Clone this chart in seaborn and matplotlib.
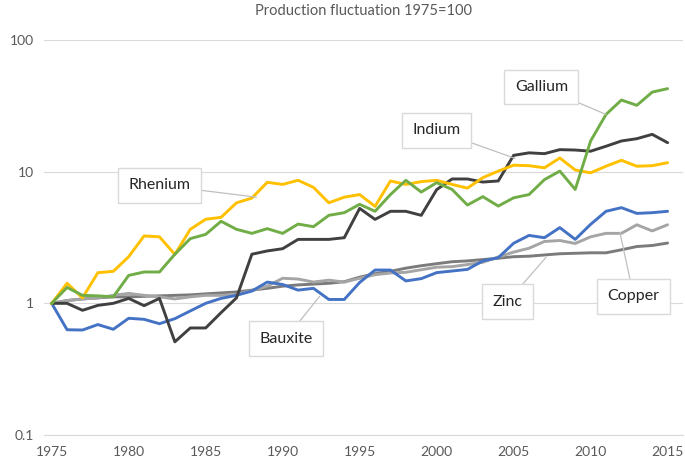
#Production fluctuation of minor metals, index 1975 = 1 (log scale)
import numpy as np
import pandas as pd
import matplotlib
matplotlib.use("Agg")
import matplotlib.pyplot as plt
import seaborn as sns

years = list(range(1975, 2016))

rhenium = [1.0, 1.42, 1.10, 1.71, 1.75, 2.26, 3.25, 3.20, 2.35, 3.65, 4.35, 4.5, 5.8, 6.3, 8.3,
           8.0, 8.6, 7.6, 5.8, 6.4, 6.7, 5.45, 8.5, 8.0, 8.4, 8.6, 8.0, 7.5, 9.0, 10.1,
           11.2, 11.1, 10.7, 12.7, 10.3, 9.8, 11.0, 12.2, 11.0, 11.1, 11.7]
gallium = [1.0, 1.32, 1.15, 1.14, 1.12, 1.63, 1.73, 1.73, 2.36, 3.1, 3.34, 4.2, 3.65, 3.4, 3.69,
           3.4, 4.0, 3.82, 4.66, 4.88, 5.65, 5.0, 6.7, 8.6, 7.0, 8.25, 7.33, 5.58, 6.46, 5.48,
           6.33, 6.7, 8.7, 10.1, 7.33, 17.1, 27.2, 35.0, 31.9, 40.2, 42.7]
indium = [1.0, 1.0, 0.885, 0.965, 1.0, 1.09, 0.96, 1.09, 0.51, 0.65, 0.65, 0.85, 1.1, 2.36, 2.5,
          2.6, 3.06, 3.06, 3.06, 3.15, 5.26, 4.34, 5.0, 5.0, 4.66, 7.3, 8.8, 8.8, 8.34, 8.5,
          13.3, 13.9, 13.7, 14.7, 14.6, 14.3, 15.6, 17.1, 17.8, 19.2, 16.6]
bauxite = [1.0, 0.63, 0.627, 0.69, 0.635, 0.77, 0.756, 0.70, 0.765, 0.875, 1.0, 1.09, 1.15, 1.24, 1.45,
           1.39, 1.26, 1.30, 1.07, 1.07, 1.44, 1.79, 1.79, 1.48, 1.54, 1.71, 1.76, 1.81, 2.1, 2.22,
           2.86, 3.28, 3.15, 3.76, 3.06, 3.98, 5.0, 5.33, 4.82, 4.88, 5.0]
zinc = [1.0, 1.05, 1.08, 1.10, 1.12, 1.12, 1.13, 1.14, 1.15, 1.16, 1.18, 1.20, 1.22, 1.26, 1.30,
        1.35, 1.38, 1.40, 1.42, 1.46, 1.58, 1.68, 1.75, 1.85, 1.93, 2.0, 2.07, 2.1, 2.15, 2.2,
        2.26, 2.28, 2.33, 2.38, 2.40, 2.42, 2.42, 2.55, 2.70, 2.75, 2.87]
copper = [1.0, 1.05, 1.08, 1.10, 1.15, 1.19, 1.15, 1.12, 1.08, 1.12, 1.15, 1.15, 1.17, 1.25, 1.35,
          1.55, 1.53, 1.45, 1.50, 1.45, 1.55, 1.65, 1.70, 1.72, 1.80, 1.88, 1.90, 1.97, 2.05, 2.25,
          2.45, 2.62, 2.95, 3.0, 2.85, 3.2, 3.4, 3.4, 3.95, 3.55, 3.95]

metals = ['Zinc', 'Copper', 'Bauxite', 'Indium', 'Rhenium', 'Gallium']
colors = {'Rhenium': '#FFC000', 'Gallium': '#70AD47', 'Indium': '#404040',
          'Bauxite': '#4472C4', 'Zinc': '#7B7B7B', 'Copper': '#A5A5A5'}

df = pd.DataFrame({'Year': years, 'Rhenium': rhenium, 'Gallium': gallium, 'Indium': indium,
                   'Bauxite': bauxite, 'Zinc': zinc, 'Copper': copper})
long_df = pd.melt(df, id_vars=['Year'], value_vars=metals, var_name='Metal', value_name='Index')

sns.set_style('white')
plt.rcParams['font.family'] = ['Lato', 'DejaVu Sans']

fig = plt.figure(figsize=(6.85, 4.63), dpi=100)
ax = fig.add_axes([44/685, 28/463, 639/685, 395/463])
sns.lineplot(data=long_df, x='Year', y='Index', hue='Metal', hue_order=metals,
             palette=colors, linewidth=2.1, legend=False, ax=ax)

ax.set_yscale('log')
ax.set_ylim(0.1, 100)
ax.set_xlim(1974.5, 2016.0)
ax.set_yticks([0.1, 1, 10, 100])
ax.set_yticklabels(['0.1', '1', '10', '100'])
ax.minorticks_off()
ax.set_xticks(list(range(1975, 2016, 5)))
ax.set_xticks([y - 0.5 for y in range(1975, 2016, 5)], minor=True)
ax.tick_params(axis='x', which='major', length=0, pad=8, labelsize=10, labelcolor='#595959')
ax.tick_params(axis='x', which='minor', length=5, color='#D9D9D9', width=0.8)
ax.tick_params(axis='y', length=0, pad=7, labelsize=10, labelcolor='#595959')
ax.set_xlabel('')
ax.set_ylabel('')

ax.grid(axis='y', which='major', color='#D9D9D9', linewidth=0.8)
for s in ['left', 'right', 'top']:
    ax.spines[s].set_visible(False)
ax.spines['bottom'].set_color('#D9D9D9')
ax.spines['bottom'].set_linewidth(0.8)

ax.set_title('Production fluctuation 1975=100', fontsize=10.5, color='#595959', pad=18)

#Boxed labels with leader lines
labels = [('Rhenium', (1982.0, 7.9), (1988.3, 6.4)),
          ('Gallium', (2006.8, 44.0), (2011.0, 27.2)),
          ('Indium', (2000.0, 20.6), (2005.1, 12.6)),
          ('Bauxite', (1990.2, 0.54), (1992.4, 1.13)),
          ('Zinc', (2004.6, 1.03), (2007.1, 2.23)),
          ('Copper', (2012.8, 1.13), (2011.9, 3.46))]
for name, text_pos, point in labels:
    ax.annotate(name, xy=point, xytext=text_pos, ha='center', va='center',
                fontsize=11.5, color='#262626', zorder=5,
                bbox=dict(boxstyle='square,pad=0.65', fc='white', ec='#D9D9D9', lw=1),
                arrowprops=dict(arrowstyle='-', color='#BFBFBF', lw=0.9, shrinkA=0, shrinkB=0))

plt.savefig('out.png', dpi=100)
